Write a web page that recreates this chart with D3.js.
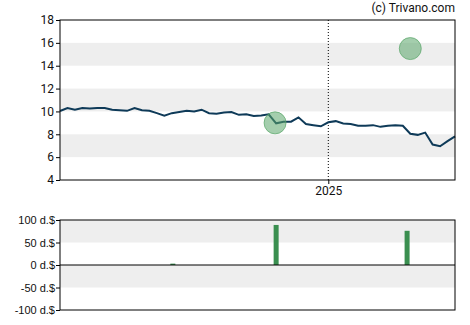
<!DOCTYPE html>
<html>
<head>
<meta charset="utf-8">
<script src="https://cdn.jsdelivr.net/npm/d3@7"></script>
<style>
  body { margin: 0; background: #fff; }
  svg { display: block; }
  .ax text { font-family: Roboto, sans-serif; font-size: 12px; fill: #111; }
  .ax2 text { font-family: "Liberation Sans", Arial, sans-serif; font-size: 11px; fill: #111; }
</style>
</head>
<body>
<div id="chart"></div>
<script>
// weekly closing prices
var startDate = "2024-04-24";
var endDate = "2025-04-30";
var prices = [10.04, 10.3, 10.15, 10.3, 10.25, 10.3, 10.3, 10.15, 10.1, 10.05,
  10.3, 10.1, 10.05, 9.85, 9.63, 9.85, 9.95, 10.05, 10.0, 10.15,
  9.85, 9.8, 9.9, 9.95, 9.7, 9.75, 9.6, 9.65, 9.75, 8.96,
  9.1, 9.1, 9.48, 8.9, 8.8, 8.7, 9.05, 9.15, 8.95, 8.9,
  8.75, 8.75, 8.8, 8.65, 8.75, 8.8, 8.75, 8.05, 7.95, 8.15,
  7.1, 6.95, 7.4, 7.82];

// insider trades (circles on price chart)
var tradeDates = ["2024-11-12", "2025-03-19"];
var tradePrices = [9.0, 15.5];

// insider volume bars
var barDates = ["2024-08-08", "2024-11-13", "2025-03-16"];
var barValues = [3, 89, 76];

var priceTicks = [4, 6, 8, 10, 12, 14, 16, 18];
var volTicks = [-100, -50, 0, 50, 100];

var parse = d3.timeParse("%Y-%m-%d");
var t0 = parse(startDate);
var series = prices.map(function(p, i) { return {d: d3.timeDay.offset(t0, i * 7), v: p}; });

var width = 470, height = 325;
var left = 60, right = 455;

var svg = d3.select("#chart").append("svg")
  .attr("width", width)
  .attr("height", height);

var x = d3.scaleTime()
  .domain([t0, parse(endDate)])
  .range([left, right]);

// ---------------
// price chart

var y = d3.scaleLinear().domain([4, 18]).range([180, 20]);

// gray bands
[[14, 16], [10, 12], [6, 8]].forEach(function(b) {
  svg.append("rect")
    .attr("x", left).attr("width", right - left)
    .attr("y", y(b[1])).attr("height", y(b[0]) - y(b[1]))
    .style("fill", "#eeeeee");
});

// 2025 marker
var jan = parse("2025-01-01");
svg.append("line")
  .attr("x1", x(jan)).attr("x2", x(jan))
  .attr("y1", 20).attr("y2", 180)
  .style("stroke", "#000")
  .style("stroke-dasharray", "1 2");

svg.append("path")
  .datum(series)
  .attr("d", d3.line().x(function(d) { return x(d.d); }).y(function(d) { return y(d.v); }))
  .style("fill", "none")
  .style("stroke", "#0e3a58")
  .style("stroke-width", 2);

svg.append("g").selectAll("circle")
  .data(tradeDates)
  .enter().append("circle")
    .attr("cx", function(d) { return x(parse(d)); })
    .attr("cy", function(d, i) { return y(tradePrices[i]); })
    .attr("r", 11)
    .style("fill", "#5aa66a")
    .style("fill-opacity", 0.55)
    .style("stroke", "#5aa66a")
    .style("stroke-opacity", 0.7);

svg.append("rect")
  .attr("x", left).attr("y", 20)
  .attr("width", right - left).attr("height", 160)
  .style("fill", "none").style("stroke", "#000");

svg.append("g")
  .attr("class", "ax")
  .attr("transform", "translate(" + left + ",0)")
  .call(d3.axisLeft(y).tickValues(priceTicks).tickSize(4).tickPadding(2))
  .call(function(g) { g.select(".domain").remove(); });

svg.append("g")
  .attr("class", "ax")
  .attr("transform", "translate(0,180)")
  .call(d3.axisBottom(x).tickValues([jan]).tickFormat(d3.timeFormat("%Y")).tickSize(4).tickPadding(2))
  .call(function(g) { g.select(".domain").remove(); });

svg.append("text")
  .attr("x", right).attr("y", 12)
  .attr("text-anchor", "end")
  .style("font-family", "Roboto, sans-serif")
  .style("font-size", "12px")
  .style("fill", "#111")
  .text("(c) Trivano.com");

// ---------------
// volume chart

var y2 = d3.scaleLinear().domain([-100, 100]).range([310, 220]);

[[50, 100], [-50, 0]].forEach(function(b) {
  svg.append("rect")
    .attr("x", left).attr("width", right - left)
    .attr("y", y2(b[1])).attr("height", y2(b[0]) - y2(b[1]))
    .style("fill", "#eeeeee");
});

svg.append("g").selectAll("rect")
  .data(barDates)
  .enter().append("rect")
    .attr("x", function(d) { return x(parse(d)) - 2.5; })
    .attr("width", 5)
    .attr("y", function(d, i) { return y2(barValues[i]); })
    .attr("height", function(d, i) { return y2(0) - y2(barValues[i]); })
    .style("fill", "#3a8f50");

svg.append("line")
  .attr("x1", left).attr("x2", right)
  .attr("y1", y2(0)).attr("y2", y2(0))
  .style("stroke", "#000");

svg.append("rect")
  .attr("x", left).attr("y", 220)
  .attr("width", right - left).attr("height", 90)
  .style("fill", "none").style("stroke", "#000");

svg.append("g")
  .attr("class", "ax2")
  .attr("transform", "translate(" + left + ",0)")
  .call(d3.axisLeft(y2).tickValues(volTicks).tickFormat(function(d) { return d + " d.$"; }).tickSize(4).tickPadding(1))
  .call(function(g) { g.select(".domain").remove(); });
</script>
</body>
</html>
